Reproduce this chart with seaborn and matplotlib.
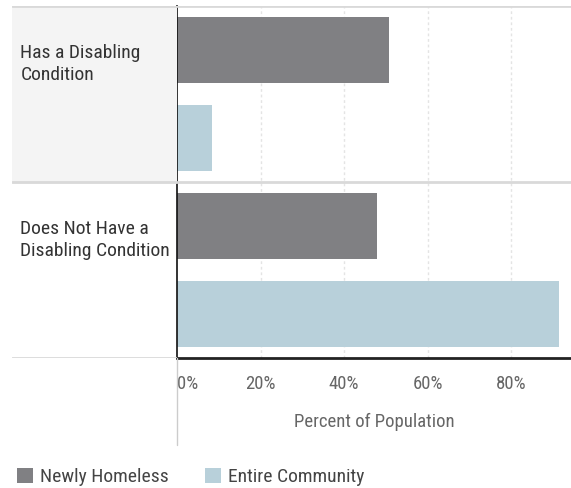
import matplotlib
matplotlib.use("Agg")
import matplotlib.pyplot as plt
from matplotlib.lines import Line2D
import pandas as pd
import seaborn as sns

# data
conditions = ["Has a Disabling\nCondition", "Does Not Have a\nDisabling Condition"]
groups = ["Newly Homeless", "Entire Community"]
newly_homeless = [50.7, 47.9]
entire_community = [8.4, 91.5]
x_ticks = [0, 20, 40, 60, 80]
x_tick_labels = ["0%", "20%", "40%", "60%", "80%"]

colors = {"Newly Homeless": "#7f7f83", "Entire Community": "#b3d2df"}

df = pd.DataFrame({
    "condition": conditions * 2,
    "group": [groups[0]] * 2 + [groups[1]] * 2,
    "percent": newly_homeless + entire_community,
})

sns.set_theme(style="white")
plt.rcParams["font.family"] = ["Roboto Condensed", "Liberation Sans", "DejaVu Sans"]

W, H = 571, 488
fig = plt.figure(figsize=(W / 100, H / 100), dpi=100)

top_px, bottom_px = 6, 358
left_px, split_px = 12, 177
ax = fig.add_axes([split_px / W, 1 - bottom_px / H, 1 - split_px / W, (bottom_px - top_px) / H])
lab = fig.add_axes([left_px / W, 1 - bottom_px / H, (split_px - left_px) / W, (bottom_px - top_px) / H],
                   sharey=ax)

sns.barplot(data=df, y="condition", x="percent", hue="group", hue_order=groups,
            palette=colors, orient="h", width=1.0, gap=0.26, ax=ax,
            edgecolor="none", linewidth=0)
ax.get_legend().remove()

ax.set_xlim(0, 94.3)
ax.set_ylim(1.5, -0.5)
ax.set_xticks(x_ticks)
ax.set_xticklabels(x_tick_labels, fontsize=13.5, color="#666666")
ax.get_xticklabels()[0].set_horizontalalignment("left")
ax.tick_params(axis="x", length=0, pad=12)
ax.set_yticks([])
ax.set_ylabel("")
ax.set_xlabel("Percent of Population", fontsize=13.5, color="#666666", labelpad=14.5)
for x in x_ticks[1:]:
    ax.axvline(x, color="#e4e4e4", linestyle=(0, (2, 2)), linewidth=1, zorder=0)
for y in [-0.5, 0.5]:
    ax.axhline(y, color="#d9d9d9", linewidth=2, zorder=3)
for s in ["top", "right"]:
    ax.spines[s].set_visible(False)
ax.spines["left"].set_color("#111111")
ax.spines["bottom"].set_color("#222222")
ax.spines["left"].set_linewidth(1.2)
ax.spines["bottom"].set_linewidth(2)

# row label panel on the left
lab.set_xlim(0, 1)
lab.axis("off")
lab.axhspan(-0.5, 0.5, color="#f4f4f4", zorder=0)
for y in [-0.5, 0.5, 1.5]:
    lab.axhline(y, color="#d9d9d9", linewidth=2)
for i, name in enumerate(conditions):
    lab.text(0.05, i - 0.5 + 0.215, name, ha="left", va="top", fontsize=14,
             color="#333333", linespacing=1.28)

# thin gray continuation of the axis line below the plot
fig.add_artist(Line2D([split_px / W, split_px / W], [1 - bottom_px / H, 1 - 445 / H],
                      color="#cccccc", linewidth=1))

handles, labels = ax.get_legend_handles_labels()
fig.legend(handles, labels, loc="lower left", bbox_to_anchor=(17 / W, 2 / H), ncol=2,
           frameon=False, fontsize=14, handlelength=0.8, handleheight=0.8,
           handletextpad=0.4, columnspacing=1.85, labelcolor="#444444",
           borderpad=0, borderaxespad=0)

fig.savefig("out.png", dpi=100)
